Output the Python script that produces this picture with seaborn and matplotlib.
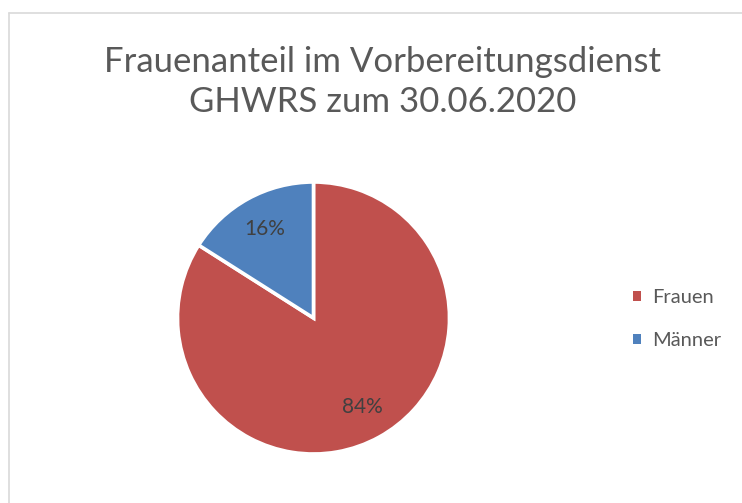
import matplotlib
matplotlib.use("Agg")
import matplotlib.pyplot as plt
from matplotlib.patches import Patch
from matplotlib.lines import Line2D
import seaborn as sns

# data
categories = ["Frauen", "Männer"]
shares = [84, 16]
colors = ["#C0504D", "#4F81BD"]
title = "Frauenanteil im Vorbereitungsdienst\nGHWRS zum 30.06.2020"

sns.set_theme(style="white")
plt.rcParams["font.family"] = ["Lato", "DejaVu Sans"]

W, H = 742, 503
fig = plt.figure(figsize=(W / 100, H / 100), dpi=100)
fig.patch.set_facecolor("white")

# pie axes: centre (313.5, 318) px, radius 136 px
cx, cy, r = 313.5, 318, 136
ax = fig.add_axes([(cx - r) / W, (H - cy - r) / H, 2 * r / W, 2 * r / H])
palette = sns.color_palette(colors)
wedges, texts, autotexts = ax.pie(
    shares, colors=palette, startangle=90, counterclock=False,
    autopct="%1.0f%%", pctdistance=0.75,
    wedgeprops=dict(edgecolor="white", linewidth=2.6),
    textprops=dict(color="#404040", fontsize=15),
)
ax.set_xlim(-1, 1)
ax.set_ylim(-1, 1)
ax.set_aspect("equal")
ax.axis("off")

# title
fig.text(383 / W, 1 - 82 / H, title, ha="center", va="center",
         fontsize=25, color="#595959", linespacing=1.3)

# legend
handles = [Patch(facecolor=c, edgecolor="none") for c in palette]
fig.legend(handles, categories, loc="center left",
           bbox_to_anchor=(633 / W, 1 - 319 / H), frameon=False,
           fontsize=14.5, labelcolor="#595959", handlelength=0.42,
           handleheight=0.42, handletextpad=0.55, labelspacing=1.3,
           borderpad=0, borderaxespad=0)

# chart frame (only top and left edges visible)
fig.add_artist(Line2D([8.5 / W, 1], [1 - 13 / H, 1 - 13 / H],
                      transform=fig.transFigure, color="#D9D9D9", lw=1.2))
fig.add_artist(Line2D([8.5 / W, 8.5 / W], [0, 1 - 13 / H],
                      transform=fig.transFigure, color="#D9D9D9", lw=1.2))

fig.savefig("out.png", dpi=100)
